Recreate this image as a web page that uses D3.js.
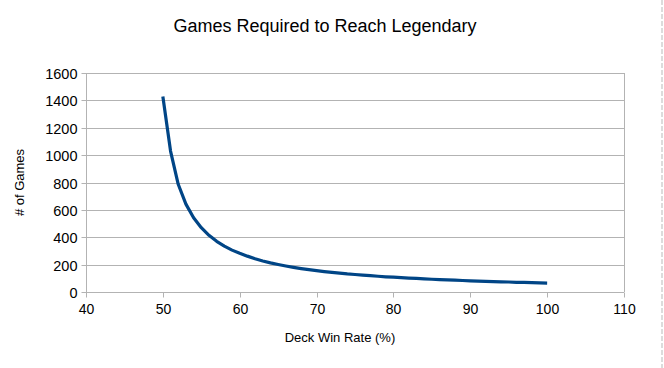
<!DOCTYPE html>
<html>
<head>
<meta charset="utf-8">
<script src="https://cdn.jsdelivr.net/npm/d3@7"></script>
<style>
  html, body { margin: 0; padding: 0; background: #fff; }
  svg { display: block; }
  text { font-family: "Liberation Sans", Arial, sans-serif; fill: #000; }
</style>
</head>
<body>
<script>
const title = "Games Required to Reach Legendary";
const xTitle = "Deck Win Rate (%)";
const yTitle = "# of Games";
const winRates = [50,51,52,53,54,55,56,57,58,59,60,61,62,63,64,65,66,67,68,69,70,71,72,73,74,75,76,77,78,79,80,81,82,83,84,85,86,87,88,89,90,91,92,93,94,95,96,97,98,99,100];
const games = [1429,1030,787,642,543,470,414,370,335,306,283,262,243,227,213,201,190,180,171,163,156,149,143,138,132,128,123,119,115,111,108,105,102,99,96,93,91,89,87,84,82,80,78,76,74,73,71,70,68,66,65];
const xTicks = [40,50,60,70,80,90,100,110];
const yTicks = [0,200,400,600,800,1000,1200,1400,1600];

const W = 664, H = 368;
const pL = 86, pR = 624, pT = 73, pB = 292;

const svg = d3.select("body").append("svg").attr("width", W).attr("height", H);

const x = d3.scaleLinear().domain([40, 110]).range([pL, pR]);
const y = d3.scaleLinear().domain([0, 1600]).range([pB, pT]);

const gridColor = "#b3b3b3";

// horizontal gridlines
svg.append("g").selectAll("line").data(yTicks.filter(d => d > 0)).join("line")
  .attr("x1", pL).attr("x2", pR)
  .attr("y1", d => Math.round(y(d)) + 0.5).attr("y2", d => Math.round(y(d)) + 0.5)
  .attr("stroke", gridColor).attr("stroke-width", 1);

// right border
svg.append("line").attr("x1", pR + 0.5).attr("x2", pR + 0.5)
  .attr("y1", pT).attr("y2", pB).attr("stroke", gridColor);

// y axis
const yAxis = d3.axisLeft(y).tickValues(yTicks).tickSize(5).tickPadding(4).tickFormat(d3.format("d"));
const gy = svg.append("g").attr("transform", `translate(${pL + 0.5},0)`).call(yAxis);
gy.selectAll(".tick line").attr("stroke", gridColor);
gy.selectAll(".tick").attr("transform", d => `translate(0,${Math.round(y(d)) + 0.5})`);
gy.selectAll(".tick text").attr("font-size", 14.5).attr("font-family", "Liberation Sans, Arial, sans-serif").attr("fill", "#000").attr("dy", "0.36em");
gy.select(".domain").attr("stroke", gridColor).attr("d", `M0,${pT}V${pB + 0.5}`);

// x axis
const xAxis = d3.axisBottom(x).tickValues(xTicks).tickSize(5).tickPadding(7).tickFormat(d3.format("d"));
const gx = svg.append("g").attr("transform", `translate(0,${pB + 0.5})`).call(xAxis);
gx.select(".domain").attr("stroke", gridColor).attr("d", `M${pL},0H${pR}`);
gx.selectAll(".tick line").attr("stroke", gridColor);
gx.selectAll(".tick").attr("transform", d => `translate(${Math.round(x(d)) + 0.5},0)`);
gx.selectAll(".tick text").attr("font-size", 14).attr("font-family", "Liberation Sans, Arial, sans-serif").attr("fill", "#000");

// line
const data = winRates.map((p, i) => ({p, v: games[i]}));
svg.append("path").datum(data)
  .attr("fill", "none").attr("stroke", "#004586").attr("stroke-width", 3.2)
  .attr("stroke-linejoin", "round")
  .attr("d", d3.line().x(d => x(d.p)).y(d => y(d.v)));

// titles
svg.append("text").attr("x", 325).attr("y", 32).attr("text-anchor", "middle")
  .attr("font-size", 18).text(title);
svg.append("text").attr("x", 340).attr("y", 342).attr("text-anchor", "middle")
  .attr("font-size", 13).text(xTitle);
svg.append("text").attr("transform", `translate(24,${(pT + pB) / 2}) rotate(-90)`)
  .attr("text-anchor", "middle").attr("font-size", 13).text(yTitle);

// dashed edge line at right
svg.append("line").attr("x1", 662).attr("x2", 662).attr("y1", 0).attr("y2", H)
  .attr("stroke", "#dcdcdc").attr("stroke-width", 2).attr("stroke-dasharray", "5,2");
</script>
</body>
</html>
